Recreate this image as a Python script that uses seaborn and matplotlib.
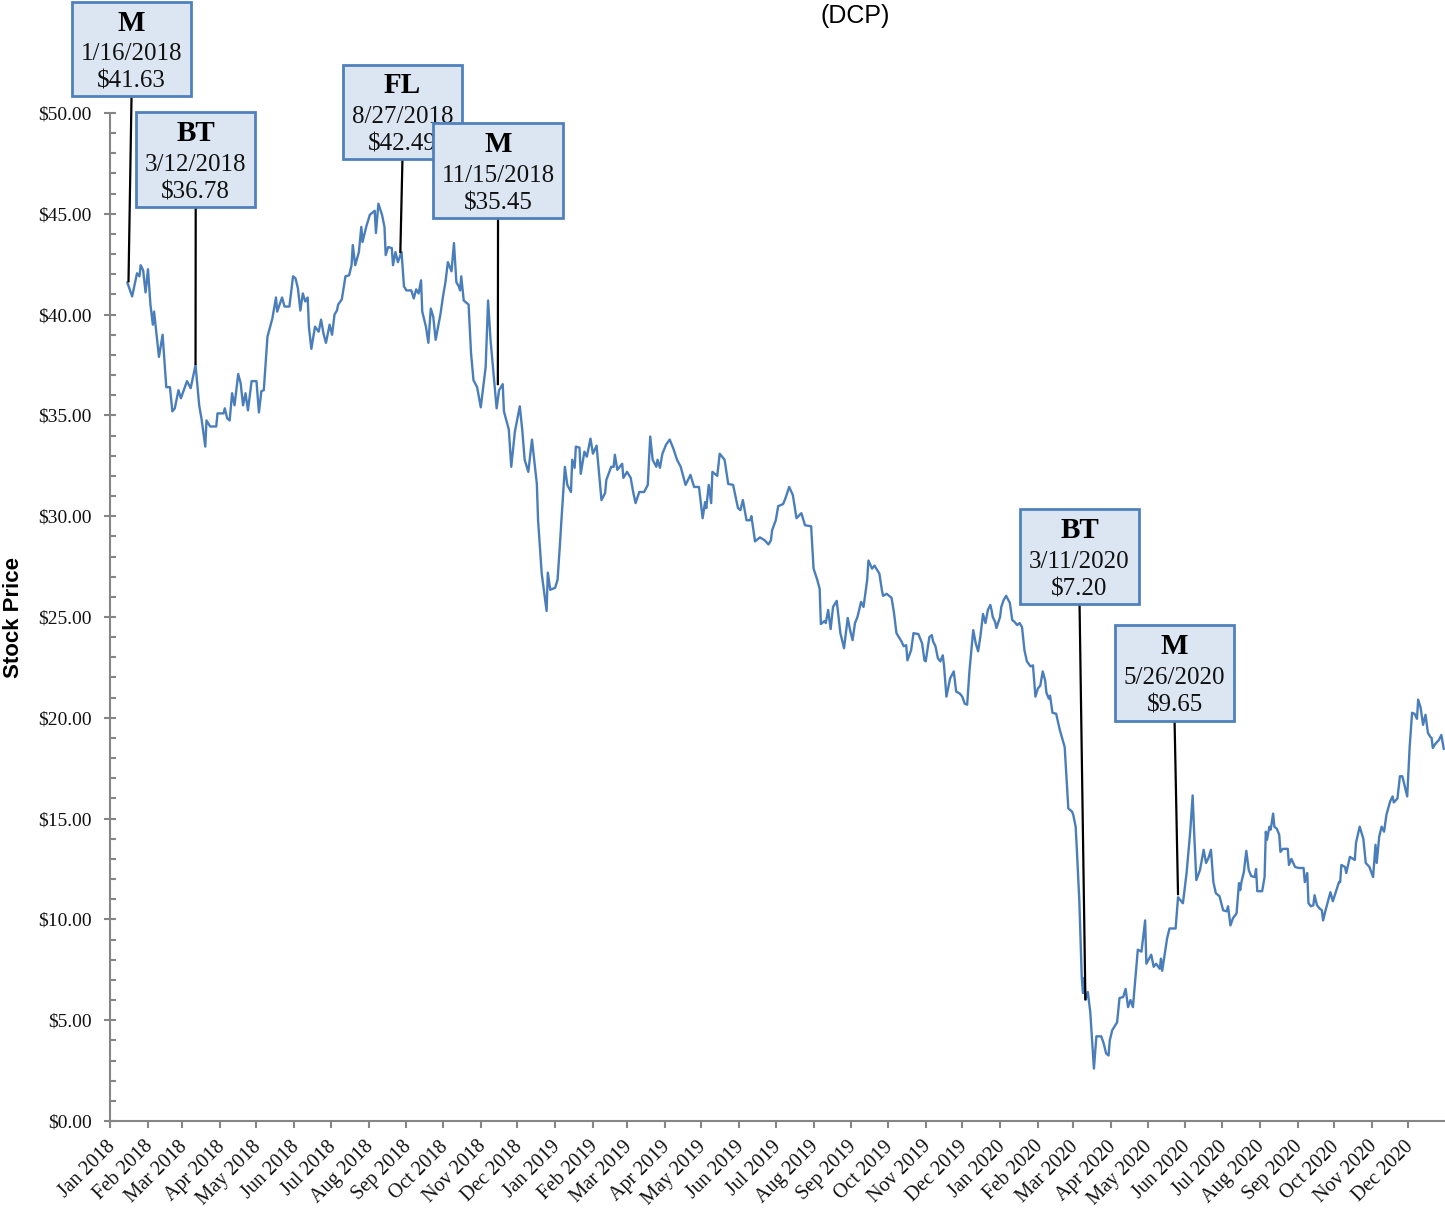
import pandas as pd
import matplotlib
matplotlib.use("Agg")
import matplotlib.pyplot as plt
import matplotlib.dates as mdates
import matplotlib.transforms as mtransforms
from matplotlib.patches import Rectangle
from matplotlib.ticker import MultipleLocator, FuncFormatter
import seaborn as sns

START = pd.Timestamp("2018-01-01")

# trading days, as days since 2018-01-01
days = [
    14, 18, 22, 24, 25, 27, 29, 31, 33, 35, 36, 40, 43, 46, 49, 51, 53, 56, 58, 63,
    66, 70, 73, 75, 78, 79, 82, 87, 88, 93, 94, 96, 98, 100, 102, 105, 107, 109, 111, 113,
    116, 120, 122, 124, 126, 129, 133, 136, 137, 141, 143, 147, 150, 152, 154, 156, 158, 160, 162, 163,
    165, 168, 171, 173, 175, 177, 180, 182, 184, 186, 187, 190, 193, 196, 198, 199, 201, 204, 206, 207,
    210, 213, 217, 218, 220, 223, 225, 226, 228, 231, 232, 234, 236, 239, 241, 243, 247, 249, 251, 253,
    255, 256, 259, 261, 263, 265, 267, 271, 273, 275, 277, 280, 282, 284, 286, 287, 288, 290, 294, 296,
    298, 301, 304, 308, 310, 312, 317, 319, 322, 323, 327, 329, 332, 336, 338, 340, 343, 346, 350, 351,
    354, 358, 359, 361, 365, 367, 369, 370, 373, 375, 378, 379, 381, 382, 385, 386, 389, 391, 394, 396,
    399, 403, 406, 407, 411, 413, 414, 416, 420, 421, 424, 427, 429, 431, 434, 438, 441, 443, 445, 448,
    449, 451, 453, 456, 459, 462, 465, 468, 472, 476, 479, 483, 486, 488, 489, 491, 493, 494, 498, 500,
    504, 507, 511, 515, 517, 519, 522, 525, 526, 529, 533, 537, 540, 542, 543, 546, 548, 552, 554, 557,
    560, 563, 567, 570, 575, 577, 580, 582, 583, 586, 587, 589, 591, 593, 596, 599, 602, 605, 607, 609,
    611, 613, 616, 618, 621, 622, 625, 627, 629, 631, 633, 634, 637, 641, 643, 645, 649, 651, 653, 654,
    657, 659, 663, 666, 668, 669, 672, 674, 675, 677, 679, 681, 683, 684, 686, 689, 692, 694, 697, 699,
    701, 703, 705, 708, 710, 712, 714, 716, 718, 720, 722, 723, 724, 726, 727, 730, 731, 733, 735, 738,
    740, 742, 744, 746, 748, 750, 752, 755, 757, 759, 761, 763, 765, 767, 768, 770, 771, 773, 776, 779,
    783, 786, 789, 790, 792, 793, 795, 797, 798, 799, 800, 802, 804, 807, 809, 813, 815, 817, 819, 820,
    822, 826, 828, 831, 833, 835, 837, 839, 843, 846, 849, 850, 854, 856, 858, 861, 862, 863, 867, 869,
    874, 876, 878, 880, 883, 886, 888, 889, 891, 894, 897, 899, 901, 903, 905, 907, 910, 913, 916, 917,
    919, 921, 924, 926, 927, 928, 930, 932, 934, 936, 939, 940, 941, 945, 947, 948, 949, 951, 952, 954,
    955, 957, 959, 960, 962, 966, 967, 969, 972, 975, 979, 980, 982, 983, 985, 987, 988, 990, 992, 994,
    995, 997, 1001, 1003, 1008, 1009, 1010, 1013, 1014, 1017, 1021, 1022, 1025, 1028, 1030, 1033, 1036, 1038, 1039, 1041,
    1043, 1045, 1047, 1050, 1052, 1053, 1056, 1058, 1060, 1062, 1064, 1066, 1068, 1070, 1072, 1073, 1075, 1077, 1079, 1081,
    1083, 1084, 1085, 1087, 1090, 1092, 1094,
]
close = [
    41.6, 40.9, 42.05, 41.9, 42.45, 42.2, 41.1, 42.25, 40.5, 39.5, 40.15, 37.9, 39.0, 36.4, 36.4, 35.2, 35.35, 36.25, 35.85, 36.7,
    36.35, 37.5, 35.5, 34.8, 33.45, 34.75, 34.45, 34.45, 35.1, 35.1, 35.35, 34.85, 34.75, 36.1, 35.5, 37.05, 36.6, 35.5, 36.1, 35.25,
    36.7, 36.7, 35.15, 36.2, 36.25, 38.9, 39.8, 40.85, 40.15, 40.85, 40.4, 40.4, 41.9, 41.8, 41.3, 40.2, 41.05, 40.65, 40.85, 39.4,
    38.3, 39.4, 39.15, 39.75, 39.05, 38.6, 39.5, 39.0, 40.0, 40.2, 40.5, 40.75, 41.9, 41.95, 42.45, 43.45, 42.45, 43.1, 44.35, 43.6,
    44.35, 44.95, 45.15, 44.05, 45.5, 44.95, 44.35, 42.95, 43.35, 43.3, 42.45, 43.1, 42.6, 43.1, 41.4, 41.2, 41.2, 40.8, 41.25, 41.05,
    41.7, 40.15, 39.4, 38.6, 40.3, 39.9, 38.75, 40.05, 40.9, 41.6, 42.6, 42.15, 43.55, 41.6, 41.4, 41.2, 41.9, 40.7, 40.5, 38.1,
    36.75, 36.4, 35.4, 37.4, 40.7, 38.75, 35.35, 36.25, 36.55, 35.2, 34.3, 32.45, 34.2, 35.45, 34.3, 32.8, 32.2, 33.8, 31.6, 29.8,
    27.15, 25.3, 27.2, 26.35, 26.45, 26.85, 28.65, 29.65, 32.45, 31.55, 31.2, 32.8, 32.4, 33.45, 33.4, 32.1, 33.2, 32.95, 33.85, 33.1,
    33.5, 30.8, 31.15, 31.8, 32.45, 32.45, 33.05, 32.3, 32.6, 31.9, 32.2, 31.9, 31.2, 30.65, 31.2, 31.2, 31.55, 33.95, 32.8, 32.45,
    32.8, 32.4, 33.1, 33.55, 33.8, 33.35, 32.8, 32.45, 31.55, 32.05, 31.45, 31.45, 29.9, 30.7, 30.4, 31.55, 30.65, 32.2, 32.0, 33.1,
    32.8, 31.6, 31.55, 30.4, 30.3, 30.8, 29.8, 29.8, 30.0, 28.75, 28.95, 28.8, 28.6, 28.8, 29.3, 29.8, 30.5, 30.6, 30.9, 31.45,
    31.05, 29.9, 30.15, 29.55, 29.5, 27.4, 26.85, 26.4, 24.65, 24.8, 24.7, 25.35, 24.4, 25.5, 25.8, 24.2, 23.45, 24.95, 24.35, 23.85,
    24.7, 25.0, 25.75, 25.5, 26.85, 27.8, 27.4, 27.55, 27.35, 27.15, 26.35, 26.05, 26.15, 25.95, 25.2, 24.2, 23.8, 23.55, 23.6, 22.85,
    23.35, 24.2, 24.15, 23.7, 22.85, 22.8, 24.0, 24.1, 23.8, 23.55, 22.95, 22.8, 23.1, 22.6, 21.05, 21.95, 22.3, 21.3, 21.2, 21.05,
    20.7, 20.65, 22.4, 24.35, 23.7, 23.3, 24.1, 25.15, 24.7, 25.35, 25.6, 25.35, 25.0, 24.75, 24.45, 25.0, 25.5, 25.85, 26.05, 25.7,
    24.85, 24.75, 24.6, 24.7, 24.5, 23.35, 22.8, 22.55, 22.6, 21.05, 21.45, 21.6, 22.3, 21.85, 21.25, 20.95, 21.1, 20.25, 20.2, 19.4,
    18.55, 15.5, 15.35, 15.2, 14.6, 13.45, 10.95, 7.15, 6.35, 7.1, 6.0, 6.4, 5.4, 2.6, 4.2, 4.2, 3.85, 3.35, 3.25, 4.0,
    4.5, 4.9, 6.1, 6.15, 6.55, 5.65, 6.0, 5.65, 8.5, 8.4, 9.95, 7.8, 8.25, 7.65, 7.8, 7.55, 8.05, 7.45, 9.05, 9.55,
    9.55, 11.1, 10.95, 10.8, 12.3, 14.35, 16.15, 14.6, 11.95, 12.45, 13.45, 12.8, 13.05, 13.45, 11.85, 11.3, 11.15, 10.45, 10.4, 10.65,
    9.7, 10.05, 10.3, 11.8, 11.45, 11.85, 12.35, 13.4, 12.45, 12.15, 12.1, 12.5, 11.4, 11.4, 12.1, 14.35, 13.95, 14.6, 14.45, 15.25,
    14.6, 14.5, 14.2, 13.35, 13.5, 13.5, 12.7, 13.0, 12.6, 12.55, 12.55, 11.85, 12.3, 10.8, 10.65, 10.7, 11.2, 10.7, 10.55, 10.45,
    9.95, 10.45, 11.35, 10.9, 11.85, 11.85, 12.7, 12.6, 12.3, 13.1, 12.95, 13.8, 14.6, 14.0, 12.8, 12.6, 12.1, 13.7, 12.8, 14.1,
    14.6, 14.35, 15.2, 15.85, 16.1, 15.8, 16.0, 17.1, 17.1, 16.6, 16.1, 18.55, 20.25, 20.2, 19.95, 20.9, 20.5, 19.65, 20.15, 19.25,
    19.05, 19.0, 18.5, 18.7, 18.9, 19.15, 18.45,
]

# callouts
note_titles = ["M", "BT", "FL", "M", "BT", "M"]
note_dates = ["1/16/2018", "3/12/2018", "8/27/2018", "11/15/2018", "3/11/2020", "5/26/2020"]
note_prices = ["$41.63", "$36.78", "$42.49", "$35.45", "$7.20", "$9.65"]
note_tips = [41.6, 37.5, 43.05, 36.5, 6.0, 11.2]

# box layout: (left day, right day, top, bottom) in axis units
note_boxes = [
    (-31.3, 66.3, 55.5, 50.85),
    (21.3, 119.0, 50.05, 45.35),
    (190.9, 288.6, 52.4, 47.7),
    (264.8, 371.5, 49.5, 44.8),
    (746.4, 844.0, 30.35, 25.65),
    (824.3, 922.0, 24.6, 19.85),
]

LINE_BLUE = "#4a7ebb"
BOX_FILL = "#dce6f2"
BOX_EDGE = "#4f81bd"
AXIS_GREY = "#868686"
TEXT = "#111111"

sns.set_style("white")
plt.rcParams["font.family"] = ["Liberation Serif", "DejaVu Serif"]

df = pd.DataFrame({"date": START + pd.to_timedelta(days, unit="D"), "close": close})

fig = plt.figure(figsize=(14.45, 12.09), dpi=100)
ax = fig.add_axes([110.2 / 1445, 88 / 1209, 1 - 110.2 / 1445, 1008 / 1209])

sns.lineplot(data=df, x="date", y="close", ax=ax, color=LINE_BLUE, linewidth=1.7)

ax.set_xlim(START, pd.Timestamp("2020-12-31"))
ax.set_ylim(0, 50)

ax.xaxis.set_major_locator(mdates.MonthLocator())
ax.xaxis.set_major_formatter(mdates.DateFormatter("%b %Y"))
ax.yaxis.set_major_locator(MultipleLocator(5))
ax.yaxis.set_minor_locator(MultipleLocator(1))
ax.yaxis.set_major_formatter(FuncFormatter(lambda v, p: f"${v:.2f}"))

for side in ["top", "right"]:
    ax.spines[side].set_visible(False)
for side in ["left", "bottom"]:
    ax.spines[side].set_color(AXIS_GREY)
    ax.spines[side].set_linewidth(1.5)

# seaborn's white style hides tick marks, turn them back on
ax.tick_params(axis="y", which="both", left=True)
ax.tick_params(axis="x", which="major", bottom=True)
ax.tick_params(axis="y", which="major", direction="inout", length=9, width=1.5,
               color=AXIS_GREY, labelsize=14, pad=9, labelcolor=TEXT)
ax.tick_params(axis="y", which="minor", direction="in", length=4, width=1.5, color=AXIS_GREY)
ax.tick_params(axis="x", which="major", direction="out", length=5, width=1.5,
               color=AXIS_GREY, labelsize=14.5, pad=3, labelcolor=TEXT)
shift = mtransforms.ScaledTranslation(-0.045, -0.05, fig.dpi_scale_trans)
for lab in ax.get_xticklabels():
    lab.set_rotation(45)
    lab.set_ha("right")
    lab.set_rotation_mode("anchor")
    lab.set_transform(lab.get_transform() + shift)

ax.set_xlabel("")
ax.set_ylabel("Stock Price", fontsize=16, fontweight="bold", family=["Liberation Sans"], color="black")
ax.yaxis.set_label_coords(-0.0646, 0.5)

fig.text(855 / 1445, 1 - 23 / 1209, "(DCP)", ha="center", va="baseline",
         fontsize=18, family=["Liberation Sans"], color="black")

for i in range(len(note_titles)):
    left, right, top, bottom = note_boxes[i]
    x0 = mdates.date2num(START) + left
    x1 = mdates.date2num(START) + right
    xc = (x0 + x1) / 2
    h = top - bottom
    tip_x = mdates.date2num(pd.to_datetime(note_dates[i], format="%m/%d/%Y"))
    z = 10 + 3 * i
    ax.plot([xc, tip_x], [bottom, note_tips[i]], color="black", lw=1.6,
            zorder=z, clip_on=False, solid_capstyle="butt")
    ax.add_patch(Rectangle((x0, bottom), x1 - x0, h, facecolor=BOX_FILL,
                           edgecolor=BOX_EDGE, lw=2, zorder=z + 1, clip_on=False))
    ax.text(xc, top - h * 0.225, note_titles[i], ha="center", va="center",
            fontsize=21, fontweight="bold", color="black", zorder=z + 2)
    ax.text(xc, top - h * 0.555, note_dates[i], ha="center", va="center",
            fontsize=18, color=TEXT, zorder=z + 2)
    ax.text(xc, top - h * 0.845, note_prices[i], ha="center", va="center",
            fontsize=18, color=TEXT, zorder=z + 2)

fig.savefig("out.png", dpi=100)
